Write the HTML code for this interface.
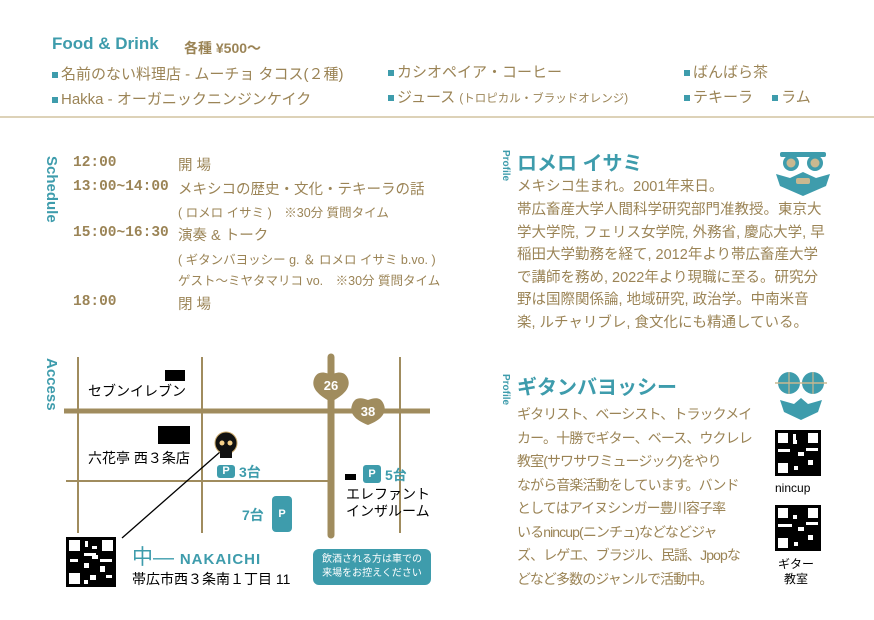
<!DOCTYPE html>
<html><head><meta charset="utf-8"><style>
*{margin:0;padding:0;box-sizing:border-box}
body{width:874px;height:620px;background:#fff;position:relative;overflow:hidden;font-family:"Liberation Sans","Noto Sans CJK JP",sans-serif;color:#9b8456}
.a{position:absolute;white-space:nowrap}
.t{color:#3e9cac}
.b{font-weight:bold}
.sq{display:inline-block;width:6px;height:6px;background:#3e9cac;margin-right:3px;vertical-align:middle}
.fi{font-size:15px}
.tm{font-size:14.5px;font-weight:bold;color:#9b8456;font-family:"Liberation Mono","Noto Sans CJK JP",monospace}
.it{font-size:14.5px}
.sm{font-size:12.5px}
.vert{position:absolute;writing-mode:vertical-rl;font-weight:bold;color:#3e9cac}
.p1{font-size:14.5px;line-height:22.5px}
.p2{font-size:14px;line-height:23.5px;letter-spacing:-0.9px}
.P{position:absolute;background:#3e9cac;color:#fff;font-weight:bold;font-size:11px;text-align:center;border-radius:3px}
.k{color:#000}
</style></head><body>
<div class="a t b" style="left:52px;top:34px;font-size:17px">Food &amp; Drink</div>
<div class="a b" style="left:184px;top:38px;font-size:14px">各種 ¥500～</div>
<div class="a fi" style="left:52px;top:63px"><span class="sq"></span>名前のない料理店 - ムーチョ タコス(２種)</div>
<div class="a fi" style="left:52px;top:88px"><span class="sq"></span>Hakka - オーガニックニンジンケイク</div>
<div class="a fi" style="left:388px;top:61px"><span class="sq"></span>カシオペイア・コーヒー</div>
<div class="a fi" style="left:388px;top:86px"><span class="sq"></span>ジュース <span style="font-size:11.5px">(トロピカル・ブラッドオレンジ)</span></div>
<div class="a fi" style="left:684px;top:61px"><span class="sq"></span>ばんばら茶</div>
<div class="a fi" style="left:684px;top:86px"><span class="sq"></span>テキーラ　 <span class="sq"></span>ラム</div>
<div class="a" style="left:0;top:116px;width:874px;height:2px;background:#ddd2b8"></div>

<div class="vert" style="left:43px;top:156px;font-size:15px">Schedule</div>
<div class="a tm" style="left:73px;top:155px">12:00</div>
<div class="a tm" style="left:73px;top:179px">13:00~14:00</div>
<div class="a tm" style="left:73px;top:225px">15:00~16:30</div>
<div class="a tm" style="left:73px;top:294px">18:00</div>
<div class="a it" style="left:178px;top:154px">開 場</div>
<div class="a it" style="left:178px;top:178px">メキシコの歴史・文化・テキーラの話</div>
<div class="a sm" style="left:178px;top:202px">( ロメロ イサミ )　※30分 質問タイム</div>
<div class="a it" style="left:178px;top:224px">演奏 &amp; トーク</div>
<div class="a sm" style="left:178px;top:249px">( ギタンバヨッシー g. ＆ ロメロ イサミ b.vo. )</div>
<div class="a sm" style="left:178px;top:270px">ゲスト～ミヤタマリコ vo.　※30分 質問タイム</div>
<div class="a it" style="left:178px;top:293px">閉 場</div>

<div class="vert" style="left:43px;top:358px;font-size:15px">Access</div>
<svg class="a" style="left:0;top:0" width="874" height="620">
<g stroke="#a08c5e">
<line x1="78" y1="357" x2="78" y2="533" stroke-width="2"/>
<line x1="202" y1="357" x2="202" y2="533" stroke-width="2"/>
<line x1="400" y1="357" x2="400" y2="533" stroke-width="2"/>
<line x1="66" y1="481" x2="330" y2="481" stroke-width="2"/>
<line x1="64" y1="411" x2="430" y2="411" stroke-width="5"/>
<line x1="331" y1="357" x2="331" y2="535" stroke-width="7" stroke-linecap="round"/>
</g>
<path d="M331 402 C318 395 311 388 314 379 C317 370 326 372 331 375 C336 372 345 370 348 379 C351 388 344 395 331 402Z" fill="#a08c5e"/>
<path d="M368 425 C355 420 349 413 352 405 C355 396 362 398 368 400 C374 398 381 396 384 405 C387 413 381 420 368 425Z" fill="#a08c5e"/>
<text x="331" y="390" fill="#fff" font-size="13" font-weight="bold" text-anchor="middle" font-family="Liberation Sans">26</text>
<text x="368" y="416" fill="#fff" font-size="13" font-weight="bold" text-anchor="middle" font-family="Liberation Sans">38</text>
<rect x="165" y="370" width="20" height="11" fill="#000"/>
<rect x="158" y="426" width="32" height="18" fill="#000"/>
<rect x="345" y="474" width="11" height="6" fill="#000"/>
<line x1="122" y1="538" x2="220" y2="452" stroke="#000" stroke-width="1.3"/>
<circle cx="226" cy="443" r="11" fill="#111" stroke="#c9a86a" stroke-width="1"/>
<rect x="220" y="451" width="12" height="7" fill="#111"/>
<circle cx="222" cy="443" r="2.5" fill="#f5d08a"/><circle cx="230" cy="443" r="2.5" fill="#f5d08a"/>
<g>
<rect x="780" y="152" width="46" height="5" rx="2" fill="#3e9cac"/>
<circle cx="791" cy="163" r="8" fill="#3e9cac"/><circle cx="815" cy="163" r="8" fill="#3e9cac"/>
<circle cx="791" cy="163" r="4.5" fill="#c9b890"/><circle cx="815" cy="163" r="4.5" fill="#c9b890"/>
<path d="M776 174 L790 178 L803 172 L816 178 L830 174 L826 186 L803 196 L780 186Z" fill="#3e9cac"/>
<rect x="796" y="178" width="14" height="6" rx="2" fill="#c9b890"/>
</g>
<g>
<circle cx="789" cy="383" r="11" fill="#3e9cac"/><circle cx="813" cy="383" r="11" fill="#3e9cac"/>
<line x1="775" y1="383" x2="827" y2="383" stroke="#c9b890" stroke-width="1.5"/>
<line x1="789" y1="372" x2="789" y2="394" stroke="#c9b890" stroke-width="1.2"/><line x1="813" y1="372" x2="813" y2="394" stroke="#c9b890" stroke-width="1.2"/>
<path d="M780 400 L794 404 L801 398 L808 404 L822 400 L818 412 L801 420 L784 412Z" fill="#3e9cac"/>
</g>
<g fill="#000">
<rect x="66" y="537" width="50" height="50"/>
<rect x="775" y="430" width="46" height="46"/>
<rect x="775" y="505" width="46" height="46"/>
</g>
<g fill="#fff">
<rect x="69" y="540" width="11" height="11"/><rect x="102" y="540" width="11" height="11"/><rect x="69" y="573" width="11" height="11"/>
<rect x="85" y="541" width="3" height="6"/><rect x="92" y="546" width="5" height="3"/><rect x="84" y="553" width="12" height="3"/><rect x="70" y="559" width="8" height="3"/><rect x="92" y="555" width="6" height="4"/><rect x="84" y="563" width="5" height="5"/><rect x="100" y="559" width="12" height="3"/><rect x="100" y="566" width="5" height="6"/><rect x="90" y="575" width="6" height="5"/><rect x="106" y="575" width="6" height="3"/><rect x="84" y="580" width="4" height="4"/>
<rect x="778" y="433" width="10" height="10"/><rect x="808" y="433" width="10" height="10"/><rect x="778" y="463" width="10" height="10"/>
<rect x="793" y="434" width="3" height="6"/><rect x="793" y="440" width="4" height="4"/><rect x="778" y="449" width="12" height="3"/><rect x="798" y="452" width="6" height="4"/><rect x="806" y="448" width="12" height="3"/><rect x="808" y="460" width="5" height="5"/><rect x="794" y="466" width="4" height="4"/>
<rect x="778" y="508" width="10" height="10"/><rect x="808" y="508" width="10" height="10"/><rect x="778" y="538" width="10" height="10"/>
<rect x="793" y="515" width="4" height="4"/><rect x="778" y="524" width="14" height="3"/><rect x="798" y="527" width="6" height="4"/><rect x="806" y="522" width="12" height="3"/><rect x="808" y="535" width="5" height="5"/><rect x="794" y="542" width="4" height="4"/>
</g>
</svg>
<div class="a it k" style="left:88px;top:381px;font-size:14px">セブンイレブン</div>
<div class="a it k" style="left:88px;top:448px;font-size:14px">六花亭 西３条店</div>
<div class="P" style="left:217px;top:465px;width:18px;height:13px;line-height:13px">P</div>
<div class="a t b" style="left:239px;top:462px;font-size:14px">3台</div>
<div class="P" style="left:363px;top:465px;width:18px;height:18px;line-height:18px">P</div>
<div class="a t b" style="left:385px;top:465px;font-size:14px">5台</div>
<div class="a k" style="left:346px;top:486px;font-size:14px;line-height:17px">エレファント<br>インザルーム</div>
<div class="a t b" style="left:242px;top:505px;font-size:14px">7台</div>
<div class="P" style="left:272px;top:496px;width:20px;height:36px;line-height:36px;border-radius:4px">P</div>
<div class="a t" style="left:132px;top:541px;font-size:21px">中— <span class="b" style="font-size:15px;letter-spacing:1px">NAKAICHI</span></div>
<div class="a k" style="left:132px;top:569px;font-size:14px">帯広市西３条南１丁目 11</div>
<div class="a" style="left:313px;top:549px;width:118px;height:36px;background:#3e9cac;border-radius:6px;color:#fff;font-size:10px;line-height:14px;text-align:center;padding-top:4px">飲酒される方は車での<br>来場をお控えください</div>

<div class="vert" style="left:500px;top:150px;font-size:10px">Profile</div>
<div class="a t b" style="left:517px;top:147px;font-size:20px">ロメロ イサミ</div>
<div class="a p1" style="left:517px;top:176px">メキシコ生まれ。2001年来日。</div>
<div class="a p1" style="left:517px;top:199px">帯広畜産大学人間科学研究部門准教授。東京大<br>学大学院, フェリス女学院, 外務省, 慶応大学, 早<br>稲田大学勤務を経て, 2012年より帯広畜産大学<br>で講師を務め, 2022年より現職に至る。研究分<br>野は国際関係論, 地域研究, 政治学。中南米音<br>楽, ルチャリブレ, 食文化にも精通している。</div>

<div class="vert" style="left:500px;top:374px;font-size:10px">Profile</div>
<div class="a t b" style="left:517px;top:371px;font-size:20px">ギタンバヨッシー</div>
<div class="a p2" style="left:517px;top:403px">ギタリスト、ベーシスト、トラックメイ<br>カー。十勝でギター、ベース、ウクレレ<br>教室(サワサワミュージック)をやり<br>ながら音楽活動をしています。バンド<br>としてはアイヌシンガー豊川容子率<br>いるnincup(ニンチュ)などなどジャ<br>ズ、レゲエ、ブラジル、民謡、Jpopな<br>どなど多数のジャンルで活動中。</div>
<div class="a k" style="left:775px;top:481px;font-size:12px">nincup</div>
<div class="a k" style="left:778px;top:557px;font-size:12px;text-align:center;line-height:15px">ギター<br>教室</div>
</body></html>
